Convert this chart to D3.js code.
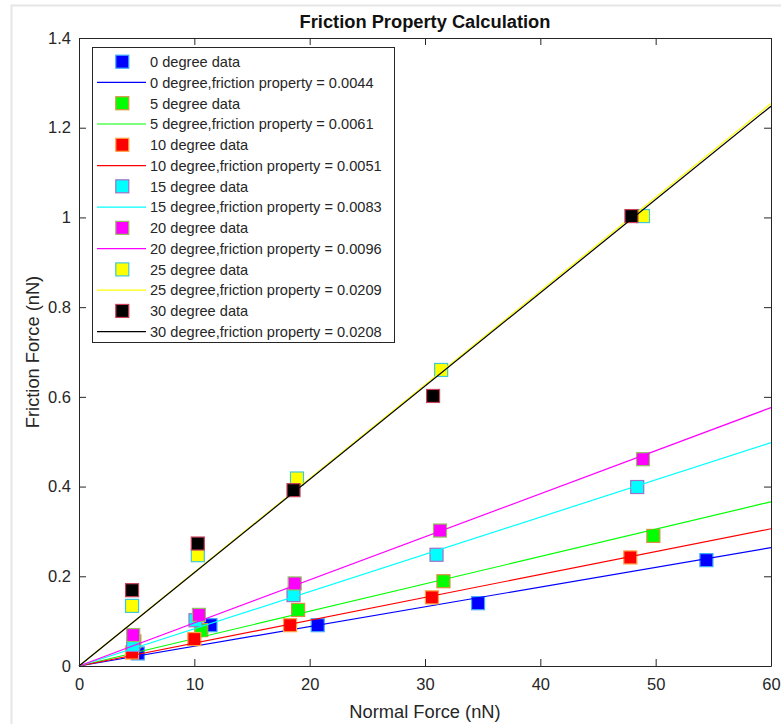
<!DOCTYPE html>
<html>
<head>
<meta charset="utf-8">
<script src="https://cdn.jsdelivr.net/npm/d3@7/dist/d3.min.js"></script>
<style>
  html, body { margin: 0; padding: 0; background: #fff; }
  svg { display: block; font-family: "Liberation Sans", Arial, Helvetica, sans-serif; }
</style>
</head>
<body>
<svg id="chart" width="781" height="724"></svg>
<script>
// Tilt angles of the runs (degrees)
const angles = [0, 5, 10, 15, 20, 25, 30];

// Fitted friction property (slope of friction vs. normal force) per angle
const frictionProperty = [0.0044, 0.0061, 0.0051, 0.0083, 0.0096, 0.0209, 0.0208];

// Measured points per angle: [normal force (nN), friction force (nN)]
const data0  = [[5.1, 0.028], [11.4, 0.091], [20.7, 0.091], [34.6, 0.140], [54.4, 0.236]];
const data5  = [[4.8, 0.055], [10.6, 0.080], [19.0, 0.125], [31.6, 0.189], [49.8, 0.290]];
const data10 = [[4.6, 0.030], [10.0, 0.060], [18.3, 0.091], [30.6, 0.153], [47.8, 0.242]];
const data15 = [[4.7, 0.047], [10.1, 0.102], [18.6, 0.158], [31.0, 0.248], [48.4, 0.399]];
const data20 = [[4.7, 0.069], [10.4, 0.114], [18.7, 0.184], [31.3, 0.302], [48.9, 0.461]];
const data25 = [[4.6, 0.134], [10.3, 0.247], [18.9, 0.418], [31.4, 0.660], [48.9, 1.003]];
const data30 = [[4.6, 0.169], [10.3, 0.273], [18.6, 0.392], [30.7, 0.602], [47.9, 1.003]];
const seriesData = [data0, data5, data10, data15, data20, data25, data30];

// Axis tick values and labels
const xTicks = [0, 10, 20, 30, 40, 50, 60];
const yTicks = [0, 0.2, 0.4, 0.6, 0.8, 1, 1.2, 1.4];
const yTickLabels = ["0", "0.2", "0.4", "0.6", "0.8", "1", "1.2", "1.4"];

// Styling
const lineColors = ["#0000ff", "#00ff00", "#ff0000", "#00ffff", "#ff00ff", "#ffff00", "#000000"];
const edgeColors = ["#3fa9ff", "#d9913f", "#ffa040", "#a070c8", "#90c060", "#40c8d8", "#c8405a"];
const textColor = "#262626";
const markerSize = 13;

const svg = d3.select("#chart");

// Light figure frame
svg.append("rect")
  .attr("x", 11.5).attr("y", 5.5).attr("width", 800).attr("height", 800)
  .attr("fill", "#fff").attr("stroke", "#e6e6e6").attr("stroke-width", 2);

const plotLeft = 79, plotRight = 771, plotTop = 38, plotBottom = 666;
const x = d3.scaleLinear().domain([0, 60]).range([plotLeft, plotRight]);
const y = d3.scaleLinear().domain([0, 1.4]).range([plotBottom, plotTop]);

const plot = svg.append("g");

// Series: markers then fitted line, in order
angles.forEach((a, i) => {
  const g = plot.append("g");
  g.selectAll("rect")
    .data(seriesData[i])
    .join("rect")
    .attr("x", d => x(d[0]) - markerSize / 2)
    .attr("y", d => y(d[1]) - markerSize / 2)
    .attr("width", markerSize).attr("height", markerSize)
    .attr("fill", lineColors[i])
    .attr("stroke", edgeColors[i])
    .attr("stroke-width", 1.2);
  const fit = [[0, 0], [60, 60 * frictionProperty[i]]];
  g.append("path")
    .datum(fit)
    .attr("d", d3.line().x(d => x(d[0])).y(d => y(d[1])))
    .attr("fill", "none")
    .attr("stroke", lineColors[i])
    .attr("stroke-width", 1.2);
});

// Axes (box with inward ticks on all four sides)
const tickLen = 7;
const axisFont = 16.5;

const xBottom = d3.axisBottom(x).tickValues(xTicks).tickSizeInner(-tickLen).tickSizeOuter(0).tickPadding(12).tickFormat(d3.format("d"));
const xTop = d3.axisTop(x).tickValues(xTicks).tickSizeInner(-tickLen).tickSizeOuter(0).tickFormat("");
const yLeft = d3.axisLeft(y).tickValues(yTicks).tickSizeInner(-tickLen).tickSizeOuter(0).tickPadding(8)
  .tickFormat((d, i) => yTickLabels[i]);
const yRight = d3.axisRight(y).tickValues(yTicks).tickSizeInner(-tickLen).tickSizeOuter(0).tickFormat("");

function styleAxis(g) {
  g.select(".domain").attr("stroke", textColor);
  g.selectAll(".tick line").attr("stroke", textColor);
  g.selectAll(".tick text").attr("fill", textColor).attr("font-size", axisFont)
    .attr("font-family", "'Liberation Sans', Arial, sans-serif");
}

svg.append("g").attr("transform", `translate(0,${plotBottom})`).call(xBottom).call(styleAxis);
svg.append("g").attr("transform", `translate(0,${plotTop})`).call(xTop).call(styleAxis);
svg.append("g").attr("transform", `translate(${plotLeft},0)`).call(yLeft).call(styleAxis);
svg.append("g").attr("transform", `translate(${plotRight},0)`).call(yRight).call(styleAxis);

// Titles
svg.append("text")
  .attr("x", (plotLeft + plotRight) / 2).attr("y", 28)
  .attr("text-anchor", "middle")
  .attr("font-size", 18.3).attr("font-weight", "bold").attr("fill", "#111")
  .text("Friction Property Calculation");

svg.append("text")
  .attr("x", (plotLeft + plotRight) / 2).attr("y", 718)
  .attr("text-anchor", "middle")
  .attr("font-size", 18.3).attr("fill", textColor)
  .text("Normal Force (nN)");

svg.append("text")
  .attr("transform", `translate(39,${(plotTop + plotBottom) / 2}) rotate(-90)`)
  .attr("text-anchor", "middle")
  .attr("font-size", 18.3).attr("fill", textColor)
  .text("Friction Force (nN)");

// Legend
const legendX = 92.5, legendY = 47.5, legendW = 302, legendH = 295;
const legend = svg.append("g");
legend.append("rect")
  .attr("x", legendX).attr("y", legendY).attr("width", legendW).attr("height", legendH)
  .attr("fill", "#fff").attr("stroke", textColor).attr("stroke-width", 1);

const rowStep = 20.77;
const firstRow = 61.7;
const legendFont = 14.6;
angles.forEach((a, i) => {
  const yData = firstRow + rowStep * (2 * i);
  const yLine = firstRow + rowStep * (2 * i + 1);
  legend.append("rect")
    .attr("x", 122.3 - markerSize / 2).attr("y", yData - markerSize / 2)
    .attr("width", markerSize).attr("height", markerSize)
    .attr("fill", lineColors[i]).attr("stroke", edgeColors[i]).attr("stroke-width", 1.2);
  legend.append("text")
    .attr("x", 150).attr("y", yData + 5.3)
    .attr("font-size", legendFont).attr("fill", textColor)
    .text(`${a} degree data`);
  legend.append("line")
    .attr("x1", 97).attr("x2", 146).attr("y1", yLine).attr("y2", yLine)
    .attr("stroke", lineColors[i]).attr("stroke-width", 1.2);
  legend.append("text")
    .attr("x", 150).attr("y", yLine + 5.3)
    .attr("font-size", legendFont).attr("fill", textColor)
    .text(`${a} degree,friction property = ${frictionProperty[i].toFixed(4)}`);
});
</script>
</body>
</html>
